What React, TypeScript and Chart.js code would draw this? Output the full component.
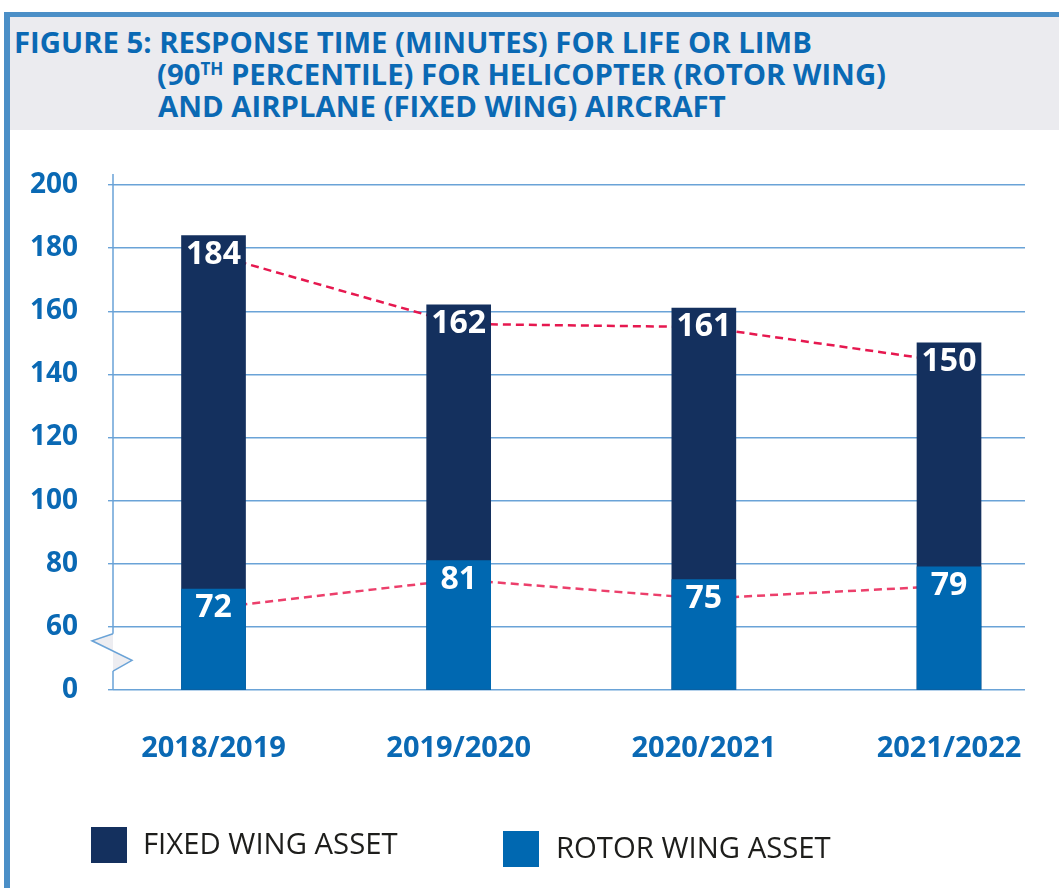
import React, { useEffect, useRef } from 'react';
import { Chart, registerables } from 'chart.js';

Chart.register(...registerables);

// ---- data ----
const categories = ['2018/2019', '2019/2020', '2020/2021', '2021/2022'];
const fixedWing = [184, 162, 161, 150];
const rotorWing = [72, 81, 75, 79];
const yTickValues = [0, 60, 80, 100, 120, 140, 160, 180, 200];
const seriesNames = ['ROTOR WING ASSET', 'FIXED WING ASSET'];

// ---- styles ----
const BLUE_TEXT = '#0a69b4';
const NAVY = '#14305e';
const ROTOR = '#0068b1';
const GRID = '#6aa3d7';
const FRAME = '#4b8fc7';
const TREND_FIXED = '#e6184f';
const TREND_ROTOR = '#ec3f6b';
const FONT = "'Open Sans', 'Noto Sans', sans-serif";

// broken axis: 0, then a break, then 60 upwards (each 20 units = one step)
const STEP = 20;
const BREAK_HIGH = 60;
const toAxis = (v: number) => (v >= BREAK_HIGH ? v - BREAK_HIGH + STEP : (v * STEP) / BREAK_HIGH);
const fromAxis = (a: number) => (a >= STEP ? a - STEP + BREAK_HIGH : (a * BREAK_HIGH) / STEP);

const LABEL_DY = 19;

const overlayPlugin = {
  id: 'overlay',
  beforeDatasetsDraw(chart: any) {
    const ctx = chart.ctx;
    const { left, top } = chart.chartArea;
    const ys = chart.scales.y;
    const y0 = ys.getPixelForValue(0);
    const y1 = ys.getPixelForValue(STEP);
    const h = y0 - y1;
    const bTop = y1 + 0.11 * h;
    const bL = y1 + 0.22 * h;
    const bR = y1 + 0.53 * h;
    const bBot = y1 + 0.7 * h;
    ctx.save();
    ctx.strokeStyle = GRID;
    ctx.lineWidth = 1.5;
    ctx.beginPath();
    ctx.moveTo(left, top - 11);
    ctx.lineTo(left, bTop);
    ctx.moveTo(left, bBot);
    ctx.lineTo(left, y0);
    ctx.stroke();
    ctx.beginPath();
    ctx.moveTo(left, bTop);
    ctx.lineTo(left - 21, bL);
    ctx.lineTo(left + 19, bR);
    ctx.lineTo(left, bBot);
    ctx.fillStyle = '#ededf1';
    ctx.fill();
    ctx.stroke();

    // dashed trend lines through the label centres (hidden behind the bars)
    chart.data.datasets.forEach((ds: any, i: number) => {
      const meta = chart.getDatasetMeta(i);
      ctx.setLineDash([8, 5]);
      ctx.lineWidth = 2.5;
      ctx.strokeStyle = i === 0 ? TREND_ROTOR : TREND_FIXED;
      ctx.beginPath();
      meta.data.forEach((el: any, j: number) => {
        const yy = el.y + LABEL_DY;
        if (j === 0) ctx.moveTo(el.x, yy);
        else ctx.lineTo(el.x, yy);
      });
      ctx.stroke();
    });
    ctx.restore();
  },
  afterDatasetsDraw(chart: any) {
    const ctx = chart.ctx;
    ctx.save();
    ctx.fillStyle = '#ffffff';
    ctx.font = `bold 32px ${FONT}`;
    ctx.textAlign = 'center';
    ctx.textBaseline = 'middle';
    const raw = [rotorWing, fixedWing];
    chart.data.datasets.forEach((ds: any, i: number) => {
      const meta = chart.getDatasetMeta(i);
      meta.data.forEach((el: any, j: number) => {
        ctx.fillText(String(raw[i][j]), el.x, el.y + LABEL_DY);
      });
    });
    ctx.restore();
  },
};

function ChartCanvas() {
  const ref = useRef<HTMLCanvasElement | null>(null);
  useEffect(() => {
    if (!ref.current) return;
    Chart.defaults.font.family = FONT;
    const chart = new Chart(ref.current, {
      type: 'bar',
      data: {
        datasets: [
          {
            label: seriesNames[0],
            data: rotorWing.map((v, i) => ({ x: i, y: toAxis(v) })),
            backgroundColor: ROTOR,
            barThickness: 64,
            grouped: false,
            borderWidth: 0,
          } as any,
          {
            label: seriesNames[1],
            data: fixedWing.map((v, i) => ({ x: i, y: toAxis(v) })),
            backgroundColor: NAVY,
            barThickness: 64,
            grouped: false,
            borderWidth: 0,
          } as any,
        ],
      },
      options: {
        animation: false,
        responsive: false,
        maintainAspectRatio: false,
        layout: { padding: { top: 185, right: 34, left: 0, bottom: 0 } },
        plugins: {
          legend: { display: false },
          tooltip: { enabled: false },
          title: { display: false },
        },
        scales: {
          x: {
            type: 'linear',
            min: -0.41,
            max: 3.31,
            offset: false,
            grid: {
              display: true,
              drawOnChartArea: false,
              offset: false,
              drawTicks: true,
              tickLength: 41,
              color: 'rgba(0,0,0,0)',
              tickColor: 'rgba(0,0,0,0)',
            },
            border: { display: false },
            afterBuildTicks: (s: any) => {
              s.ticks = categories.map((_, i) => ({ value: i }));
            },
            afterFit: (s: any) => {
              s.height = 198;
            },
            ticks: {
              autoSkip: false,
              maxRotation: 0,
              minRotation: 0,
              padding: 0,
              color: BLUE_TEXT,
              font: { size: 29, weight: 'bold' },
              callback: (v: any) => categories[Math.round(Number(v))] ?? '',
            },
          } as any,
          y: {
            type: 'linear',
            min: 0,
            max: toAxis(200),
            afterBuildTicks: (s: any) => {
              s.ticks = yTickValues.map((v) => ({ value: toAxis(v) }));
            },
            afterFit: (s: any) => {
              s.width = 113;
            },
            grid: { color: GRID, lineWidth: 1.4, drawTicks: true, tickLength: 5, tickColor: GRID },
            border: { display: false },
            ticks: {
              padding: 30,
              color: BLUE_TEXT,
              font: { size: 28, weight: 'bold' },
              callback: (v: any) => String(fromAxis(Number(v))),
            },
          } as any,
        },
      },
      plugins: [overlayPlugin],
    });
    return () => chart.destroy();
  }, []);
  return (
    <canvas
      ref={ref}
      width={1059}
      height={888}
      style={{ position: 'absolute', left: 0, top: 0, width: 1059, height: 888 }}
    />
  );
}

export default function App() {
  const titleLine: React.CSSProperties = {
    whiteSpace: 'nowrap',
    height: 32,
  };
  return (
    <div
      style={{
        position: 'absolute',
        left: 0,
        top: 0,
        width: 1059,
        height: 888,
        background: '#ffffff',
        overflow: 'hidden',
        fontFamily: FONT,
      }}
    >
      <ChartCanvas />
      {/* frame */}
      <div style={{ position: 'absolute', left: 4, top: 12, width: 1055, height: 5, background: FRAME }} />
      <div style={{ position: 'absolute', left: 4, top: 12, width: 6, height: 876, background: FRAME }} />
      <div style={{ position: 'absolute', left: 10, top: 17, width: 1049, height: 113, background: '#ebebef' }} />
      {/* title */}
      <div
        style={{
          position: 'absolute',
          left: 14,
          top: 25.5,
          color: BLUE_TEXT,
          fontWeight: 700,
          fontSize: 29.3,
          lineHeight: '32px',
        }}
      >
        <div style={titleLine}>FIGURE 5: RESPONSE TIME (MINUTES) FOR LIFE OR LIMB</div>
        <div style={{ ...titleLine, marginLeft: 143 }}>
          (90
          <span style={{ fontSize: 17, position: 'relative', top: -10, lineHeight: 0 }}>TH</span> PERCENTILE) FOR
          HELICOPTER (ROTOR WING)
        </div>
        <div style={{ ...titleLine, marginLeft: 144 }}>AND AIRPLANE (FIXED WING) AIRCRAFT</div>
      </div>
      {/* legend */}
      <div style={{ position: 'absolute', left: 91, top: 827, width: 36, height: 36, background: NAVY }} />
      <div
        style={{
          position: 'absolute',
          left: 143,
          top: 825,
          fontSize: 29.3,
          lineHeight: '36px',
          color: '#1d1d1b',
          whiteSpace: 'nowrap',
        }}
      >
        {seriesNames[1]}
      </div>
      <div style={{ position: 'absolute', left: 503, top: 831, width: 36, height: 36, background: ROTOR }} />
      <div
        style={{
          position: 'absolute',
          left: 556,
          top: 828.5,
          fontSize: 29.3,
          lineHeight: '36px',
          color: '#1d1d1b',
          whiteSpace: 'nowrap',
        }}
      >
        {seriesNames[0]}
      </div>
    </div>
  );
}
